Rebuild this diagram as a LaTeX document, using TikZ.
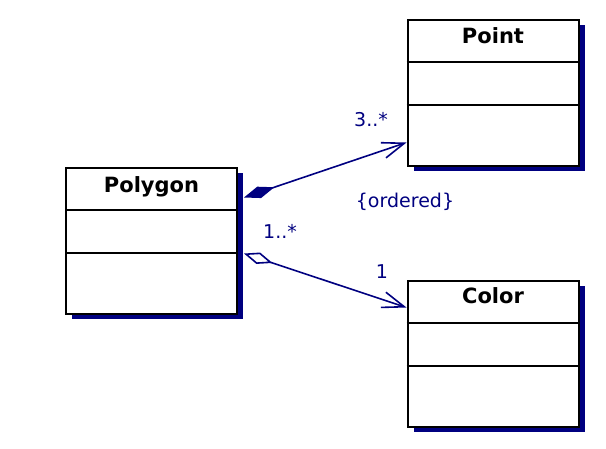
\documentclass[tikz,border=0pt]{standalone}
\usepackage{fontspec}
\setmainfont{DejaVu Sans}
\usepackage{tikz}
\usetikzlibrary{positioning,arrows.meta,shadows}
\definecolor{umlnavy}{RGB}{0,0,128}

\begin{document}
\begin{tikzpicture}[
x=1pt, y=-1pt,
classbox/.style={
    rectangle,
    minimum width=171pt,
    minimum height=146pt,
    draw=black,
    line width=2pt,
    fill=white,
    drop shadow={shadow xshift=6pt, shadow yshift=-5pt, fill=umlnavy, opacity=1}
},
classname/.style={
    font=\bfseries\fontsize{21}{24}\selectfont,
    anchor=base,
    inner sep=0pt
},
divider/.style={
    line width=2pt,
    draw=black
},
mult/.style={
    font=\fontsize{19}{22}\selectfont,
    text=umlnavy,
    inner sep=0pt
},
composition/.style={
    {Diamond[length=32pt,width=12pt]}-{Straight Barb[length=22pt,width=16pt]},
    draw=umlnavy,
    line width=1.6pt
},
aggregation/.style={
    {Diamond[open,length=30pt,width=12pt]}-{Straight Barb[length=22pt,width=16pt]},
    draw=umlnavy,
    line width=1.6pt
}
]
\useasboundingbox (0,0) rectangle (606,448);

% Classes
\node[classbox] (polygon) at (151.5,240.5) {};
\node[classbox] (point) at (493,92.5) {};
\node[classbox,below=113pt of point] (color) {};

\node[classname] (polygon-name) at ([yshift=-26pt]polygon.north) {Polygon};
\node[classname] (point-name) at ([yshift=-25pt]point.north) {Point};
\node[classname] (color-name) at ([yshift=-24pt]color.north) {Color};

% Compartments
\foreach \cls in {polygon,point,color}{
  \draw[divider] ([yshift=-43pt]\cls.north west) -- ([yshift=-43pt]\cls.north east);
  \draw[divider] ([yshift=-86pt]\cls.north west) -- ([yshift=-86pt]\cls.north east);
}

% Associations
\draw[composition] ([xshift=6pt,yshift=43pt]polygon.east) -- ([yshift=-50pt]point.west);
\draw[aggregation] ([xshift=6pt,yshift=-13pt]polygon.east) -- ([yshift=46pt]color.west);

% Multiplicities
\node[mult] (point-mult) at (371,120) {3..*};
\node[mult] (ordered) at (405,202) {\{ordered\}};
\node[mult] (polygon-mult) at (280,231) {1..*};
\node[mult] (color-mult) at (382,272) {1};

\end{tikzpicture}
\end{document}
